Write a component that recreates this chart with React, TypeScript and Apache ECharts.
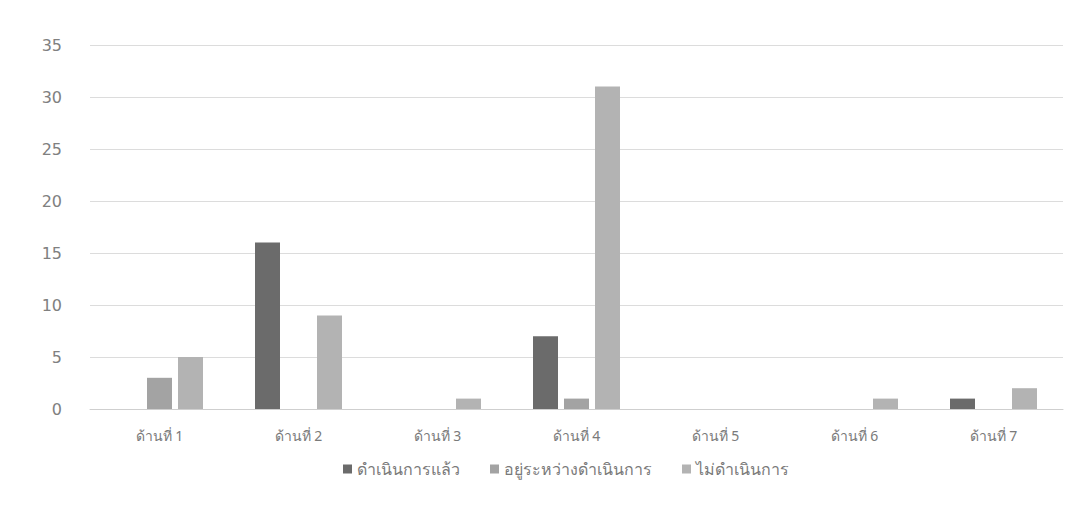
import React, { useEffect, useRef } from "react";
import * as echarts from "echarts";

const categories = ["ด้านที่ 1", "ด้านที่ 2", "ด้านที่ 3", "ด้านที่ 4", "ด้านที่ 5", "ด้านที่ 6", "ด้านที่ 7"];
const seriesNames = ["ดำเนินการแล้ว", "อยู่ระหว่างดำเนินการ", "ไม่ดำเนินการ"];
const done = [0, 16, 0, 7, 0, 0, 1];
const inProgress = [3, 0, 0, 1, 0, 0, 0];
const notDone = [5, 9, 1, 31, 0, 1, 2];
const yTicks = { min: 0, max: 35, step: 5 };
const colors = ["#6b6b6b", "#a3a3a3", "#b3b3b3"];

export default function App() {
  const ref = useRef<HTMLDivElement>(null);
  useEffect(() => {
    const chart = echarts.init(ref.current!, null, { renderer: "svg" });
    const values = [done, inProgress, notDone];
    chart.setOption({
      animation: false,
      backgroundColor: "#ffffff",
      textStyle: { fontFamily: "DejaVu Sans" },
      grid: { left: 90, right: 6, top: 45, bottom: 121, containLabel: false },
      legend: {
        top: 456,
        left: 338,
        itemWidth: 9,
        itemHeight: 9,
        itemGap: 30,
        icon: "rect",
        textStyle: { color: "#7a7a7a", fontSize: 16, fontFamily: "Noto Sans" },
        data: seriesNames,
      },
      xAxis: {
        type: "category",
        data: categories,
        axisLine: { lineStyle: { color: "#cfcfcf" } },
        axisTick: { show: false },
        axisLabel: { color: "#7a7a7a", fontSize: 14, margin: 19, fontFamily: "Noto Sans" },
      },
      yAxis: {
        type: "value",
        min: yTicks.min,
        max: yTicks.max,
        interval: yTicks.step,
        axisLine: { show: false },
        axisTick: { show: false },
        axisLabel: { color: "#808080", fontSize: 16, margin: 28 },
        splitLine: { lineStyle: { color: "#dcdcdc" } },
      },
      series: seriesNames.map((name, i) => ({
        name,
        type: "bar",
        data: values[i],
        barWidth: 25,
        barGap: "24%",
        itemStyle: { color: colors[i] },
      })),
    });
    return () => chart.dispose();
  }, []);
  return (
    <div
      ref={ref}
      style={{ position: "fixed", left: 0, top: 0, width: 1069, height: 530 }}
    />
  );
}
